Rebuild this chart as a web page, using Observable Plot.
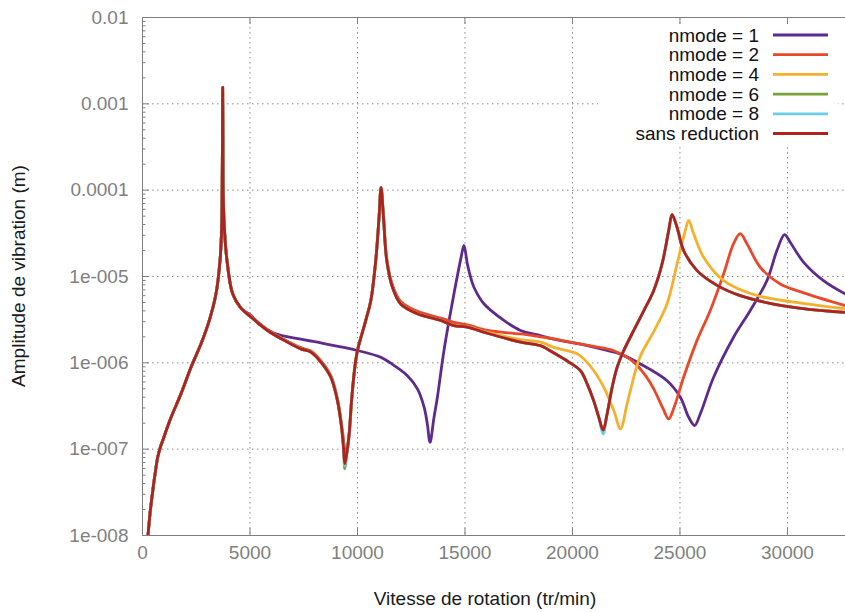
<!DOCTYPE html>
<html>
<head>
<meta charset="utf-8">
<script src="https://cdn.jsdelivr.net/npm/d3@7"></script>
<script src="https://cdn.jsdelivr.net/npm/@observablehq/plot@0.6"></script>
<style>
  html, body { margin: 0; padding: 0; background: #ffffff; }
  #chart { width: 845px; height: 612px; }
</style>
</head>
<body>
<div id="chart"></div>
<script>
// ---------- data (rpm, amplitude in m) ----------
const xTicks = [0, 5000, 10000, 15000, 20000, 25000, 30000];
const xTickLabels = ["0", "5000", "10000", "15000", "20000", "25000", "30000"];
const yTicks = [1e-8, 1e-7, 1e-6, 1e-5, 1e-4, 1e-3, 1e-2];
const yTickLabels = ["1e-008", "1e-007", "1e-006", "1e-005", "0.0001", "0.001", "0.01"];
const yMinorFactors = [2, 3, 4, 5, 6, 7, 8, 9];

const seriesNames = ["nmode = 1", "nmode = 2", "nmode = 4", "nmode = 6", "nmode = 8", "sans reduction"];
const seriesColors = ["#5d2b8e", "#e9482a", "#f5b02e", "#77a339", "#6ccde6", "#b0221b"];

// shared by every curve (first resonance)
const commun = [
  [240, 9.0e-9], [360, 1.9e-8], [478, 3.3e-8], [585, 5.2e-8], [710, 8.1e-8],
  [818, 1.03e-7], [942, 1.26e-7], [1130, 1.72e-7], [1330, 2.34e-7],
  [1793, 4.4e-7], [2257, 8.9e-7], [2722, 1.66e-6], [3108, 3.1e-6], [3419, 6.3e-6],
  [3605, 1.53e-5], [3683, 3.7e-5], [3706, 1.0e-4], [3718, 3.2e-4], [3729, 1.55e-3],
  [3742, 3.2e-4], [3752, 1.0e-4], [3806, 3.7e-5], [3930, 1.53e-5], [4194, 6.3e-6],
  [4580, 4.3e-6]
];

// shared by nmode = 4, 6, 8 and sans reduction (second resonance)
const tronc = [
  [5045, 3.4e-6], [5820, 2.37e-6], [6591, 1.82e-6], [7367, 1.45e-6], [7829, 1.33e-6],
  [8296, 1.02e-6], [8761, 6.8e-7], [9072, 3.6e-7], [9258, 1.8e-7], [9350, 1.05e-7],
  [9411, 6.8e-8], [9500, 8.9e-8], [9613, 1.51e-7], [9722, 3.6e-7], [9876, 8.9e-7],
  [10000, 1.39e-6], [10386, 3.1e-6], [10618, 5.2e-6], [10850, 1.53e-5], [11004, 4.9e-5],
  [11096, 1.08e-4], [11208, 4.9e-5], [11361, 1.53e-5], [11627, 7.5e-6], [12012, 4.8e-6],
  [12788, 3.7e-6], [13870, 3.1e-6], [14488, 2.7e-6]
];

const queueSans = [
  [15110, 2.6e-6], [16040, 2.2e-6], [17587, 1.74e-6], [18514, 1.58e-6], [19134, 1.3e-6],
  [19755, 1.05e-6], [20373, 8.1e-7], [20683, 5.7e-7], [20993, 3.6e-7], [21225, 2.34e-7],
  [21427, 1.66e-7], [21613, 2.57e-7], [21845, 5.2e-7], [22078, 8.9e-7], [22387, 1.39e-6],
  [22850, 2.37e-6], [23315, 4.0e-6], [23780, 6.9e-6], [24168, 1.4e-5], [24475, 3.4e-5],
  [24634, 5.2e-5], [24866, 3.7e-5], [25170, 2.0e-5], [25795, 1.17e-5], [26724, 7.9e-6],
  [27805, 6.0e-6], [29353, 4.8e-6], [30902, 4.2e-6], [32680, 3.85e-6]
];

const queue4 = [
  [15110, 2.63e-6], [16040, 2.25e-6], [17587, 1.86e-6], [18514, 1.74e-6], [19134, 1.51e-6],
  [20063, 1.32e-6], [20373, 1.2e-6], [20993, 8.1e-7], [21458, 5.2e-7], [21922, 2.8e-7],
  [22232, 1.72e-7], [22541, 3.35e-7], [22850, 6.8e-7], [23160, 1.2e-6], [23780, 2.3e-6],
  [24400, 4.83e-6], [24866, 1.4e-5], [25250, 3.41e-5], [25405, 4.46e-5], [25637, 3.13e-5],
  [26100, 1.67e-5], [27030, 8.97e-6], [28580, 6.03e-6], [30902, 4.83e-6], [32680, 4.23e-6]
];

const queue2 = [
  [5045, 3.48e-6], [5820, 2.43e-6], [6591, 1.87e-6], [7367, 1.5e-6], [7829, 1.37e-6],
  [8296, 1.06e-6], [8761, 7.1e-7], [9072, 3.8e-7], [9258, 1.95e-7], [9370, 1.2e-7],
  [9450, 8.3e-8], [9540, 1.0e-7], [9630, 1.6e-7], [9730, 3.7e-7], [9880, 9.0e-7],
  [10000, 1.4e-6], [10386, 3.15e-6], [10618, 5.3e-6], [10850, 1.56e-5], [11004, 4.9e-5],
  [11096, 1.05e-4], [11208, 5.1e-5], [11361, 1.62e-5], [11627, 8.0e-6], [12012, 5.15e-6],
  [12788, 3.95e-6], [13870, 3.3e-6], [14488, 2.95e-6], [15110, 2.75e-6], [16040, 2.37e-6],
  [17587, 2.16e-6], [18514, 2.0e-6], [19134, 1.9e-6], [20063, 1.7e-6], [21000, 1.55e-6],
  [21922, 1.38e-6], [22850, 1.02e-6], [23400, 7.1e-7], [23780, 5.0e-7], [24200, 3.0e-7],
  [24475, 2.24e-7], [24707, 2.95e-7], [25170, 6.8e-7], [25795, 1.82e-6], [26410, 4.04e-6],
  [27030, 1.07e-5], [27494, 2.4e-5], [27805, 3.13e-5], [28115, 2.4e-5], [28735, 1.28e-5],
  [29664, 8.2e-6], [30902, 6.3e-6], [32680, 4.61e-6]
];

const queue1 = [
  [5045, 3.55e-6], [5355, 2.9e-6], [6127, 2.2e-6], [7367, 1.88e-6], [8296, 1.7e-6],
  [9225, 1.53e-6], [10000, 1.39e-6], [11083, 1.16e-6], [11548, 9.9e-7],
  [12323, 7.1e-7], [12788, 5.0e-7], [13093, 3.1e-7], [13250, 1.95e-7], [13373, 1.2e-7],
  [13560, 2.34e-7], [13717, 4.0e-7], [14023, 1.39e-6], [14488, 6.3e-6], [14800, 1.58e-5],
  [14953, 2.29e-5], [15110, 1.4e-5], [15263, 9.8e-6], [15417, 7.5e-6], [15880, 4.83e-6],
  [16810, 3.1e-6], [17587, 2.37e-6], [18514, 2.07e-6], [19134, 1.88e-6], [20063, 1.7e-6],
  [20685, 1.58e-6], [21613, 1.39e-6], [22232, 1.26e-6], [23160, 9.7e-7], [24400, 6.2e-7],
  [25018, 4.0e-7], [25405, 2.34e-7], [25683, 1.88e-7], [25947, 2.57e-7], [26565, 6.8e-7],
  [27494, 1.98e-6], [28270, 4.04e-6], [29045, 8.97e-6], [29510, 2.0e-5], [29865, 3.06e-5],
  [30128, 2.49e-5], [30745, 1.47e-5], [31675, 8.97e-6], [32680, 6.3e-6]
];

// small deviations of nmode = 6 and nmode = 8 from the full model (deeper anti-resonances)
const ecarts6 = [[9411, 5.9e-8]];
const ecarts8 = [[9411, 6.4e-8], [21427, 1.5e-7]];

// ---------- assemble ----------
function override(points, changes) {
  const m = new Map(changes);
  return points.map(([x, y]) => [x, m.has(x) ? m.get(x) : y]);
}
const sansReduction = [...commun, ...tronc, ...queueSans];
const curves = [
  [...commun, ...queue1],
  [...commun, ...queue2],
  [...commun, ...tronc, ...queue4],
  override(sansReduction, ecarts6),
  override(sansReduction, ecarts8),
  sansReduction
];
const rows = curves.flatMap((pts, i) => pts.map(([x, y]) => ({ rpm: x, amp: y, serie: seriesNames[i] })));

const yMinor = yTicks.slice(0, -1).flatMap(d => yMinorFactors.map(f => d * f));
const xLabelMap = new Map(xTicks.map((d, i) => [d, xTickLabels[i]]));
const yLabelMap = new Map(yTicks.map((d, i) => [d, yTickLabels[i]]));

const W = 845, H = 612;
const mL = 142, mR = 0, mT = 17, mB = 77;
const innerW = W - mL - mR, innerH = H - mT - mB;
const FONT = "'Liberation Sans', Arial, Helvetica, sans-serif";
const GREY = "#7f7f7f";
const GRID = { stroke: "#8a8a8a", strokeOpacity: 1, strokeWidth: 1, strokeDasharray: "1.5,3.5" };

const chart = Plot.plot({
  width: W, height: H,
  marginLeft: mL, marginRight: mR, marginTop: mT, marginBottom: mB,
  style: { fontFamily: FONT, fontSize: "19px", background: "#ffffff", color: "#000" },
  x: { domain: [0, 32700] },
  y: { type: "log", domain: [1e-8, 1e-2] },
  color: { domain: seriesNames, range: seriesColors },
  marks: [
    Plot.gridX(xTicks.slice(1), GRID),
    Plot.gridY(yTicks.slice(1, -1), GRID),
    Plot.ruleY([1e-8, 1e-2], { stroke: GREY, strokeWidth: 1 }),
    Plot.ruleX([0], { stroke: GREY, strokeWidth: 1 }),
    Plot.tickX(xTicks.slice(1), { x: d => d, insetTop: innerH - 7, stroke: GREY }),
    Plot.tickX(xTicks.slice(1), { x: d => d, insetBottom: innerH - 7, stroke: GREY }),
    Plot.tickY(yTicks, { y: d => d, insetRight: innerW - 7, stroke: GREY }),
    Plot.tickY(yMinor, { y: d => d, insetRight: innerW - 3.5, stroke: GREY }),
    Plot.axisX(xTicks, { tickSize: 0, tickPadding: 10, color: GREY, fontSize: 19, label: null,
      tickFormat: d => xLabelMap.get(d) }),
    Plot.axisY(yTicks, { tickSize: 0, tickPadding: 14, color: GREY, fontSize: 19, label: null,
      tickFormat: d => yLabelMap.get(d) }),
    Plot.line(rows, { x: "rpm", y: "amp", z: "serie", stroke: "serie", strokeWidth: 2.8,
      curve: "catmull-rom", clip: true, strokeLinejoin: "round" })
  ]
});

document.getElementById("chart").appendChild(chart);

// ---------- titles and key ----------
const svg = d3.select(chart);
svg.append("text")
  .attr("x", 485).attr("y", 605)
  .attr("text-anchor", "middle")
  .attr("font-family", FONT).attr("font-size", 19).attr("fill", "#1a1a1a")
  .text("Vitesse de rotation (tr/min)");
svg.append("text")
  .attr("transform", "translate(25,276) rotate(-90)")
  .attr("text-anchor", "middle")
  .attr("font-family", FONT).attr("font-size", 19).attr("fill", "#1a1a1a")
  .text("Amplitude de vibration (m)");

const key = svg.append("g");
key.append("rect").attr("x", 598).attr("y", 26).attr("width", 240).attr("height", 119).attr("fill", "#ffffff");
seriesNames.forEach((name, i) => {
  const cy = 35 + i * 19.7;
  key.append("text")
    .attr("x", 759).attr("y", cy + 6.5)
    .attr("text-anchor", "end")
    .attr("font-family", FONT).attr("font-size", 19).attr("fill", "#111")
    .text(name);
  key.append("line")
    .attr("x1", 773).attr("x2", 828).attr("y1", cy).attr("y2", cy)
    .attr("stroke", seriesColors[i]).attr("stroke-width", 2.8);
});
</script>
</body>
</html>
